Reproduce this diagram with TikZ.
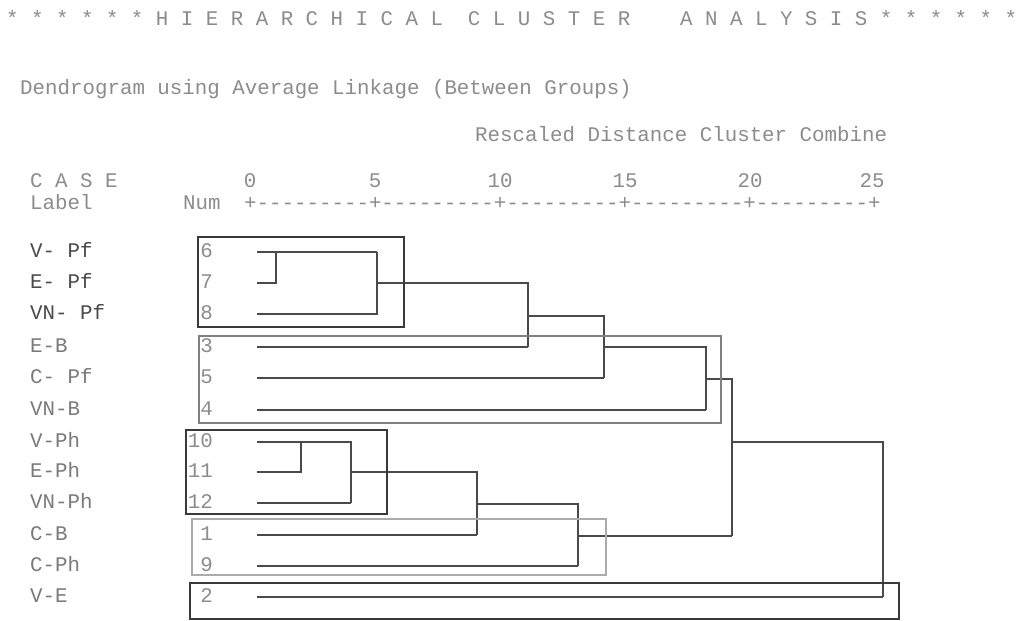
\documentclass[tikz,border=0pt]{standalone}
\usepackage{fontspec}
\usepackage{tikz}
\usetikzlibrary{positioning}
\newfontfamily\scanmono{Liberation Mono}
\definecolor{scantext}{HTML}{8C8C8C}
\definecolor{scanlabel}{HTML}{7A7A7A}
\definecolor{scanline}{HTML}{4A4A4A}
\definecolor{scanbox}{HTML}{3A3A3A}
\definecolor{scanmid}{HTML}{808080}
\definecolor{scanfaint}{HTML}{ABABAB}

\begin{document}
\begin{tikzpicture}[
      x=1pt, y=-1pt,
      txt/.style={inner sep=0pt, anchor=base west, text=scantext,
        font=\scanmono\fontsize{20.8}{24}\selectfont},
      case/.style={txt, text=scanlabel},
      num/.style={txt, anchor=base east},
      tick/.style={txt, anchor=base},
      link/.style={draw=scanline, line width=1.3pt},
      clusterbox/.style={draw=scanbox, line width=1.6pt},
      midbox/.style={draw=scanmid, line width=1.4pt},
      faintbox/.style={draw=scanfaint, line width=1.3pt}
    ]
      \useasboundingbox[fill=white] (0,0) rectangle (1021,621);
      % header
      \node[txt] (title) at (6,25)
        {*~*~*~*~*~*~H~I~E~R~A~R~C~H~I~C~A~L~~C~L~U~S~T~E~R~~~~A~N~A~L~Y~S~I~S~*~*~*~*~*~*};
      \node[txt] (method) at (20,94) {Dendrogram using Average Linkage (Between Groups)};
      \node[txt] (scale) at (475,141) {Rescaled Distance Cluster Combine};
      \node[txt] (casehead) at (30,187) {C~A~S~E};
      \node[txt] (labelhead) at (30,209) {Label};
      \node[txt] (numhead) at (183,209) {Num};
      \node[txt] (axis) at (244,209) {+---------+---------+---------+---------+---------+};
      \node[tick] (t0) at (250,187) {0};
      \node[tick] (t5) at (375,187) {5};
      \node[tick] (t10) at (500,187) {10};
      \node[tick] (t15) at (625,187) {15};
      \node[tick] (t20) at (750,187) {20};
      \node[tick] (t25) at (872,187) {25};
      % case labels
      \node[case, text=scanline] (lab6) at (30,257) {V-~Pf};
      \node[case, text=scanline] (lab7) at (30,288) {E-~Pf};
      \node[case, text=scanline] (lab8) at (30,319) {VN-~Pf};
      \node[case] (lab3) at (30,352) {E-B};
      \node[case] (lab5) at (30,383) {C-~Pf};
      \node[case] (lab4) at (30,415) {VN-B};
      \node[case] (lab10) at (30,447) {V-Ph};
      \node[case] (lab11) at (30,477) {E-Ph};
      \node[case] (lab12) at (30,508) {VN-Ph};
      \node[case] (lab1) at (30,540) {C-B};
      \node[case] (lab9) at (30,571) {C-Ph};
      \node[case] (lab2) at (30,602) {V-E};
      % case numbers
      \node[num] (num6) at (213,257) {6};
      \node[num] (num7) at (213,288) {7};
      \node[num] (num8) at (213,319) {8};
      \node[num] (num3) at (213,352) {3};
      \node[num] (num5) at (213,383) {5};
      \node[num] (num4) at (213,415) {4};
      \node[num] (num10) at (213,447) {10};
      \node[num] (num11) at (213,477) {11};
      \node[num] (num12) at (213,508) {12};
      \node[num] (num1) at (213,540) {1};
      \node[num] (num9) at (213,571) {9};
      \node[num] (num2) at (213,602) {2};
      % dendrogram
      \draw[link] (257,252) -- (377,252);
      \draw[link] (257,283) -- (276,283) -- (276,252);
      \draw[link] (257,314) -- (377,314) -- (377,252);
      \draw[link] (377,283) -- (528,283) -- (528,347);
      \draw[link] (257,347) -- (528,347);
      \draw[link] (528,316) -- (604,316) -- (604,378);
      \draw[link] (257,378) -- (604,378);
      \draw[link] (604,347) -- (706,347) -- (706,410);
      \draw[link] (257,410) -- (706,410);
      \draw[link] (706,379) -- (732,379) -- (732,536);
      \draw[link] (257,442) -- (351,442) -- (351,503);
      \draw[link] (257,472) -- (301,472) -- (301,442);
      \draw[link] (257,503) -- (351,503);
      \draw[link] (351,472) -- (477,472) -- (477,535);
      \draw[link] (257,535) -- (477,535);
      \draw[link] (477,504) -- (578,504) -- (578,566);
      \draw[link] (257,566) -- (578,566);
      \draw[link] (578,536) -- (732,536);
      \draw[link] (732,442) -- (883,442) -- (883,597);
      \draw[link] (257,597) -- (883,597);
      % hand drawn groups
      \draw[clusterbox] (198,237) rectangle (404,327);
      \draw[midbox] (199,336) rectangle (721,423);
      \draw[clusterbox] (186,430) rectangle (387,514);
      \draw[faintbox] (192,519) rectangle (606,575);
      \draw[clusterbox] (190,583) rectangle (899,619);
    \end{tikzpicture}
\end{document}
